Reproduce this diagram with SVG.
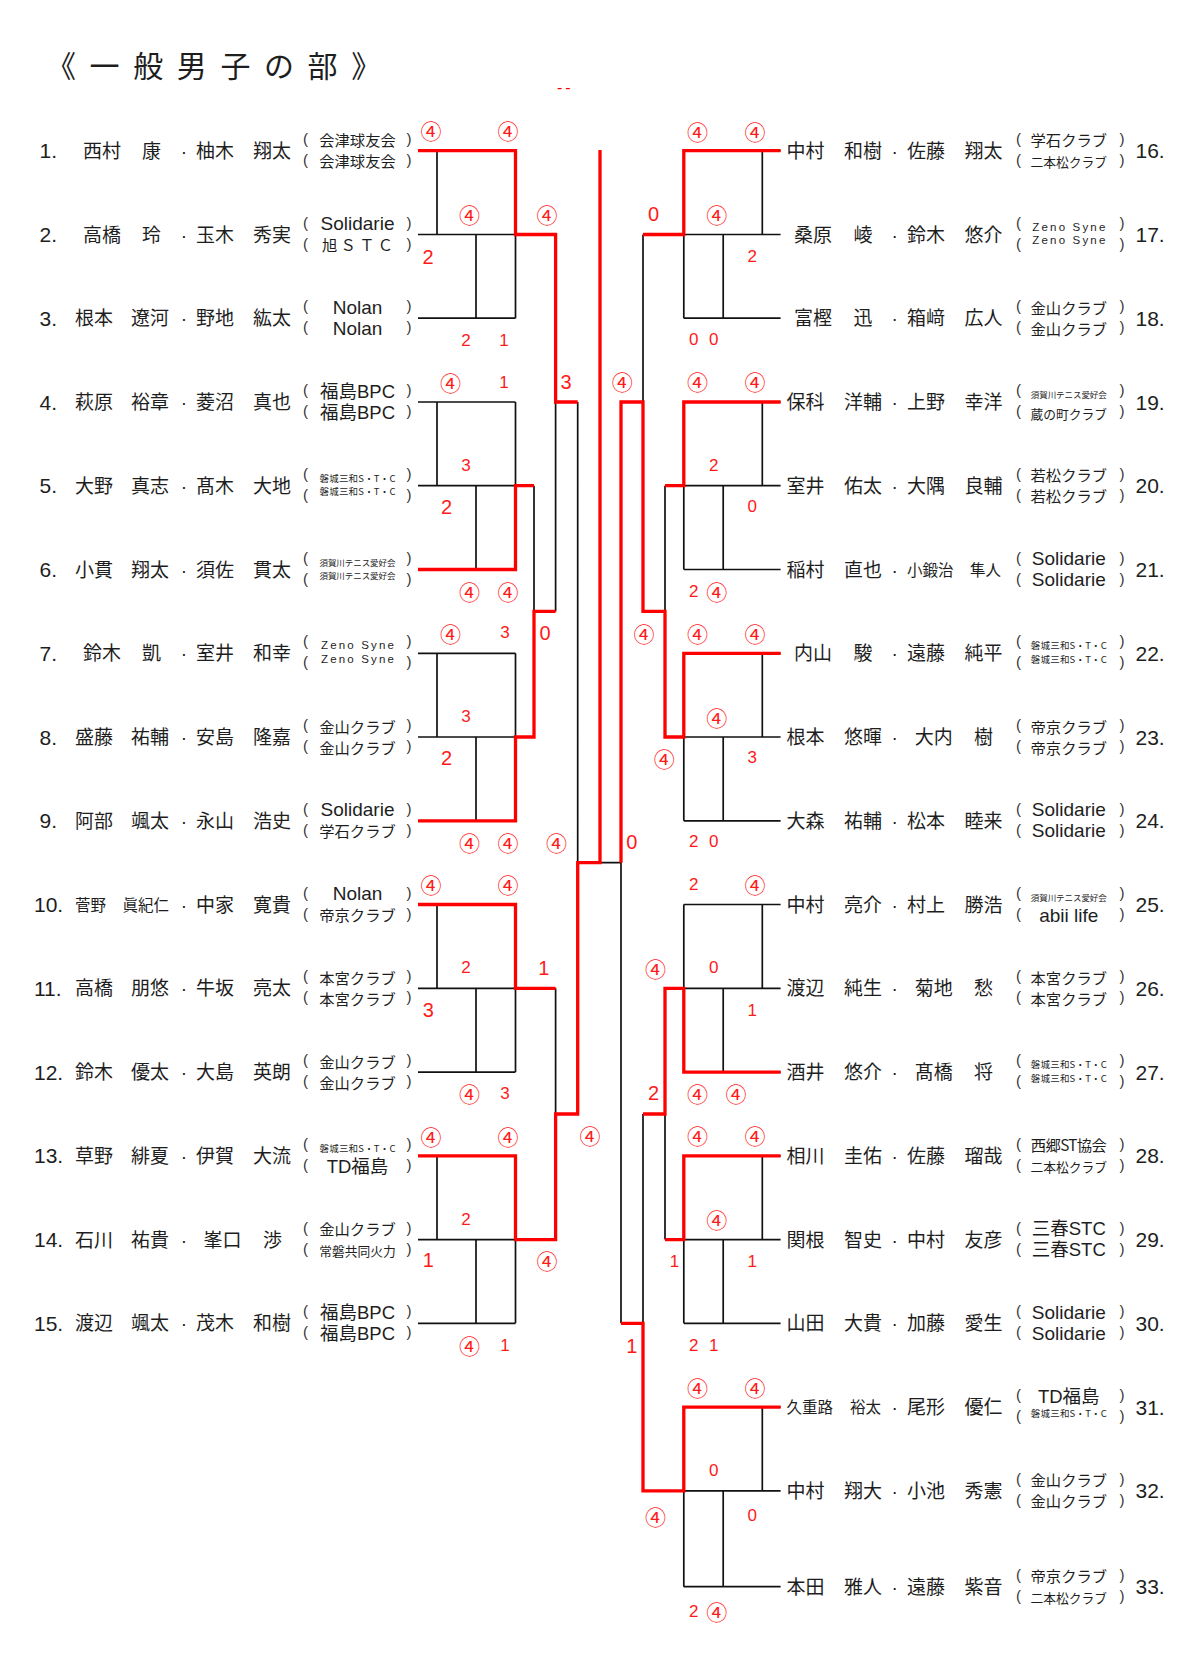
<svg xmlns="http://www.w3.org/2000/svg" width="1200" height="1653" viewBox="0 0 1200 1653">
<style>
.n{font-family:"Noto Sans CJK JP","Noto Sans CJK SC",sans-serif;fill:#1e1e1e}
.ttl{font-size:30px;letter-spacing:13.6px}
.nm{font-size:19px}
.nms{font-size:15.5px}
.no{font-family:"Liberation Sans",Arial,sans-serif;font-size:21px;fill:#1e1e1e}
.dt{font-family:"Liberation Sans",Arial,sans-serif;font-size:19px;text-anchor:middle;fill:#1e1e1e}
.pr{font-family:"Liberation Sans",Arial,sans-serif;font-size:15px;fill:#333}
.cl{font-family:"Noto Sans CJK JP","Noto Sans CJK SC",sans-serif;text-anchor:middle;fill:#1e1e1e}
.c15{font-size:15.3px}
.c13{font-size:12.75px}
.mx{font-family:"Liberation Sans","Noto Sans CJK JP","Noto Sans CJK SC",sans-serif;font-size:18.5px}
.c10{font-size:9.5px}
.c8{font-size:8.5px}
.lat{font-family:"Liberation Sans",Arial,sans-serif;font-size:19px}
.cz{font-family:"Liberation Sans",Arial,sans-serif;font-size:11.5px}
.sc{fill:#ff1a1a;text-anchor:middle;dominant-baseline:central}
.ci{font-family:"Noto Sans CJK JP","Noto Sans CJK SC",sans-serif;font-size:21px}
.b{font-family:"Liberation Sans",Arial,sans-serif;font-size:20px}
.s{font-family:"Liberation Sans",Arial,sans-serif;font-size:17px}
.bk{fill:none;stroke:#111;stroke-width:1.7}
.rd{fill:none;stroke:#ff0000;stroke-width:3.3;stroke-linejoin:miter}
</style>
<rect width="1200" height="1653" fill="#fff"/>
<text class="n ttl" x="46" y="77">《一般男子の部》</text>
<text x="557" y="92.6" fill="#ff0000" font-family="Liberation Sans, Arial, sans-serif" font-size="16" letter-spacing="3">--</text>

<g id="connectors">
<path class="bk" d="M418 150.7H515.5M418 234.5H515.5M418 318.2H515.5M437 150.7V234.5M515.5 150.7V318.2M476 234.5V318.2
M418 402H515.5M418 485.7H515.5M418 569.5H515.5M437 402V485.7M515.5 402V569.5M476 485.7V569.5
M418 653.3H515.5M418 737H515.5M418 820.8H515.5M437 653.3V737M515.5 653.3V820.8M476 737V820.8
M418 904.5H515.5M418 988.3H515.5M418 1072.1H515.5M437 904.5V988.3M515.5 904.5V1072.1M476 988.3V1072.1
M418 1155.8H515.5M418 1239.6H515.5M418 1323.3H515.5M437 1155.8V1239.6M515.5 1155.8V1323.3M476 1239.6V1323.3
M534 485.7V737M555.6 234.5V611.4M555.6 988.3V1239.6M577.7 402V1114M577.7 862.7H621
M683.8 150.7H780.6M683.8 234.5H780.6M683.8 318.2H780.6M762.3 150.7V234.5M683.8 150.7V318.2M723.2 234.5V318.2
M683.8 402H780.6M683.8 485.7H780.6M683.8 569.5H780.6M762.3 402V485.7M683.8 402V569.5M723.2 485.7V569.5
M683.8 653.3H780.6M683.8 737H780.6M683.8 820.8H780.6M762.3 653.3V737M683.8 653.3V820.8M723.2 737V820.8
M683.8 904.5H780.6M683.8 988.3H780.6M683.8 1072.1H780.6M762.3 904.5V988.3M683.8 904.5V1072.1M723.2 988.3V1072.1
M683.8 1155.8H780.6M683.8 1239.6H780.6M683.8 1323.3H780.6M762.3 1155.8V1239.6M683.8 1155.8V1323.3M723.2 1239.6V1323.3
M683.8 1407.1H780.6M683.8 1490.9H780.6M683.8 1586.7H780.6M762.3 1407.1V1490.9M683.8 1407.1V1586.7M723.2 1490.9V1586.7
M665 485.7V737M643 234.5V611.4M665 988.3V1239.6M643 1114V1490.9M621 402V1323.3"/>
<path class="rd" d="M418 150.7H515.5V234.5H555.6V402H577.7
M418 569.5H515.5V485.7H534
M418 820.8H515.5V737H534V611.4H555.6
M418 904.5H515.5V988.3H555.6
M418 1155.8H515.5V1239.6H555.6V1114H577.7V862.7H600V150
M780.6 150.7H683.8V234.5H643
M780.6 402H683.8V485.7H665
M780.6 653.3H683.8V737H665V611.4H643V402H621V862.7
M780.6 1072.1H683.8V988.3H665V1114H643
M780.6 1155.8H683.8V1239.6H665
M780.6 1407.1H683.8V1490.9H643V1323.3H621"/>
</g>

<g id="p1" transform="translate(0,150.7)"><text class="no" x="39.5" y="7.5">1.</text><text class="n nm" x="83" y="7">西村</text><text class="n nm" x="142" y="7">康</text><text class="dt" x="184" y="7">·</text><text class="n nm" x="196" y="7">柚木</text><text class="n nm" x="253" y="7">翔太</text><text class="pr" y="-7"><tspan x="303">(</tspan><tspan x="406.5">)</tspan></text><text class="pr" y="14"><tspan x="303">(</tspan><tspan x="406.5">)</tspan></text><text class="cl c15" x="357.5" y="-4.5">会津球友会</text><text class="cl c15" x="357.5" y="16.5">会津球友会</text></g>
<g id="p2" transform="translate(0,234.5)"><text class="no" x="39.5" y="7.5">2.</text><text class="n nm" x="83" y="7">高橋</text><text class="n nm" x="142" y="7">玲</text><text class="dt" x="184" y="7">·</text><text class="n nm" x="196" y="7">玉木</text><text class="n nm" x="253" y="7">秀実</text><text class="pr" y="-7"><tspan x="303">(</tspan><tspan x="406.5">)</tspan></text><text class="pr" y="14"><tspan x="303">(</tspan><tspan x="406.5">)</tspan></text><text class="cl lat" x="357.5" y="-4.5">Solidarie</text><text class="cl c15" x="357.5" y="16.5" textLength="71">旭ＳＴＣ</text></g>
<g id="p3" transform="translate(0,318.2)"><text class="no" x="39.5" y="7.5">3.</text><text class="n nm" x="75" y="7">根本</text><text class="n nm" x="131" y="7">遼河</text><text class="dt" x="184" y="7">·</text><text class="n nm" x="196" y="7">野地</text><text class="n nm" x="253" y="7">紘太</text><text class="pr" y="-7"><tspan x="303">(</tspan><tspan x="406.5">)</tspan></text><text class="pr" y="14"><tspan x="303">(</tspan><tspan x="406.5">)</tspan></text><text class="cl lat" x="357.5" y="-4.5">Nolan</text><text class="cl lat" x="357.5" y="16.5">Nolan</text></g>
<g id="p4" transform="translate(0,402)"><text class="no" x="39.5" y="7.5">4.</text><text class="n nm" x="75" y="7">萩原</text><text class="n nm" x="131" y="7">裕章</text><text class="dt" x="184" y="7">·</text><text class="n nm" x="196" y="7">菱沼</text><text class="n nm" x="253" y="7">真也</text><text class="pr" y="-7"><tspan x="303">(</tspan><tspan x="406.5">)</tspan></text><text class="pr" y="14"><tspan x="303">(</tspan><tspan x="406.5">)</tspan></text><text class="cl mx" x="357.5" y="-4.5">福島BPC</text><text class="cl mx" x="357.5" y="16.5">福島BPC</text></g>
<g id="p5" transform="translate(0,485.7)"><text class="no" x="39.5" y="7.5">5.</text><text class="n nm" x="75" y="7">大野</text><text class="n nm" x="131" y="7">真志</text><text class="dt" x="184" y="7">·</text><text class="n nm" x="196" y="7">髙木</text><text class="n nm" x="253" y="7">大地</text><text class="pr" y="-7"><tspan x="303">(</tspan><tspan x="406.5">)</tspan></text><text class="pr" y="14"><tspan x="303">(</tspan><tspan x="406.5">)</tspan></text><text class="cl c10" x="357.5" y="-4" textLength="76">磐城三和S・T・C</text><text class="cl c10" x="357.5" y="9.5" textLength="76">磐城三和S・T・C</text></g>
<g id="p6" transform="translate(0,569.5)"><text class="no" x="39.5" y="7.5">6.</text><text class="n nm" x="75" y="7">小貫</text><text class="n nm" x="131" y="7">翔太</text><text class="dt" x="184" y="7">·</text><text class="n nm" x="196" y="7">須佐</text><text class="n nm" x="253" y="7">貫太</text><text class="pr" y="-7"><tspan x="303">(</tspan><tspan x="406.5">)</tspan></text><text class="pr" y="14"><tspan x="303">(</tspan><tspan x="406.5">)</tspan></text><text class="cl c8" x="357.5" y="-4" textLength="76">須賀川テニス愛好会</text><text class="cl c8" x="357.5" y="9.5" textLength="76">須賀川テニス愛好会</text></g>
<g id="p7" transform="translate(0,653.3)"><text class="no" x="39.5" y="7.5">7.</text><text class="n nm" x="83" y="7">鈴木</text><text class="n nm" x="142" y="7">凱</text><text class="dt" x="184" y="7">·</text><text class="n nm" x="196" y="7">室井</text><text class="n nm" x="253" y="7">和幸</text><text class="pr" y="-7"><tspan x="303">(</tspan><tspan x="406.5">)</tspan></text><text class="pr" y="14"><tspan x="303">(</tspan><tspan x="406.5">)</tspan></text><text class="cl cz" x="357.5" y="-4" textLength="73">Zeno Syne</text><text class="cl cz" x="357.5" y="9.5" textLength="73">Zeno Syne</text></g>
<g id="p8" transform="translate(0,737)"><text class="no" x="39.5" y="7.5">8.</text><text class="n nm" x="75" y="7">盛藤</text><text class="n nm" x="131" y="7">祐輔</text><text class="dt" x="184" y="7">·</text><text class="n nm" x="196" y="7">安島</text><text class="n nm" x="253" y="7">隆嘉</text><text class="pr" y="-7"><tspan x="303">(</tspan><tspan x="406.5">)</tspan></text><text class="pr" y="14"><tspan x="303">(</tspan><tspan x="406.5">)</tspan></text><text class="cl c15" x="357.5" y="-4.5">金山クラブ</text><text class="cl c15" x="357.5" y="16.5">金山クラブ</text></g>
<g id="p9" transform="translate(0,820.8)"><text class="no" x="39.5" y="7.5">9.</text><text class="n nm" x="75" y="7">阿部</text><text class="n nm" x="131" y="7">颯太</text><text class="dt" x="184" y="7">·</text><text class="n nm" x="196" y="7">永山</text><text class="n nm" x="253" y="7">浩史</text><text class="pr" y="-7"><tspan x="303">(</tspan><tspan x="406.5">)</tspan></text><text class="pr" y="14"><tspan x="303">(</tspan><tspan x="406.5">)</tspan></text><text class="cl lat" x="357.5" y="-4.5">Solidarie</text><text class="cl c15" x="357.5" y="16.5">学石クラブ</text></g>
<g id="p10" transform="translate(0,904.5)"><text class="no" x="34" y="7.5">10.</text><text class="n nms" x="75" y="6">菅野</text><text class="n nms" x="122.5" y="6">眞紀仁</text><text class="dt" x="184" y="7">·</text><text class="n nm" x="196" y="7">中家</text><text class="n nm" x="253" y="7">寛貴</text><text class="pr" y="-7"><tspan x="303">(</tspan><tspan x="406.5">)</tspan></text><text class="pr" y="14"><tspan x="303">(</tspan><tspan x="406.5">)</tspan></text><text class="cl lat" x="357.5" y="-4.5">Nolan</text><text class="cl c15" x="357.5" y="16.5">帝京クラブ</text></g>
<g id="p11" transform="translate(0,988.3)"><text class="no" x="34" y="7.5">11.</text><text class="n nm" x="75" y="7">高橋</text><text class="n nm" x="131" y="7">朋悠</text><text class="dt" x="184" y="7">·</text><text class="n nm" x="196" y="7">牛坂</text><text class="n nm" x="253" y="7">亮太</text><text class="pr" y="-7"><tspan x="303">(</tspan><tspan x="406.5">)</tspan></text><text class="pr" y="14"><tspan x="303">(</tspan><tspan x="406.5">)</tspan></text><text class="cl c15" x="357.5" y="-4.5">本宮クラブ</text><text class="cl c15" x="357.5" y="16.5">本宮クラブ</text></g>
<g id="p12" transform="translate(0,1072.1)"><text class="no" x="34" y="7.5">12.</text><text class="n nm" x="75" y="7">鈴木</text><text class="n nm" x="131" y="7">優太</text><text class="dt" x="184" y="7">·</text><text class="n nm" x="196" y="7">大島</text><text class="n nm" x="253" y="7">英朗</text><text class="pr" y="-7"><tspan x="303">(</tspan><tspan x="406.5">)</tspan></text><text class="pr" y="14"><tspan x="303">(</tspan><tspan x="406.5">)</tspan></text><text class="cl c15" x="357.5" y="-4.5">金山クラブ</text><text class="cl c15" x="357.5" y="16.5">金山クラブ</text></g>
<g id="p13" transform="translate(0,1155.8)"><text class="no" x="34" y="7.5">13.</text><text class="n nm" x="75" y="7">草野</text><text class="n nm" x="131" y="7">緋夏</text><text class="dt" x="184" y="7">·</text><text class="n nm" x="196" y="7">伊賀</text><text class="n nm" x="253" y="7">大流</text><text class="pr" y="-7"><tspan x="303">(</tspan><tspan x="406.5">)</tspan></text><text class="pr" y="14"><tspan x="303">(</tspan><tspan x="406.5">)</tspan></text><text class="cl c10" x="357.5" y="-4" textLength="76">磐城三和S・T・C</text><text class="cl mx" x="357.5" y="17">TD福島</text></g>
<g id="p14" transform="translate(0,1239.6)"><text class="no" x="34" y="7.5">14.</text><text class="n nm" x="75" y="7">石川</text><text class="n nm" x="131" y="7">祐貴</text><text class="dt" x="184" y="7">·</text><text class="n nm" x="203.5" y="7">峯口</text><text class="n nm" x="263" y="7">渉</text><text class="pr" y="-7"><tspan x="303">(</tspan><tspan x="406.5">)</tspan></text><text class="pr" y="14"><tspan x="303">(</tspan><tspan x="406.5">)</tspan></text><text class="cl c15" x="357.5" y="-4.5">金山クラブ</text><text class="cl c13" x="357.5" y="16.5">常磐共同火力</text></g>
<g id="p15" transform="translate(0,1323.3)"><text class="no" x="34" y="7.5">15.</text><text class="n nm" x="75" y="7">渡辺</text><text class="n nm" x="131" y="7">颯太</text><text class="dt" x="184" y="7">·</text><text class="n nm" x="196" y="7">茂木</text><text class="n nm" x="253" y="7">和樹</text><text class="pr" y="-7"><tspan x="303">(</tspan><tspan x="406.5">)</tspan></text><text class="pr" y="14"><tspan x="303">(</tspan><tspan x="406.5">)</tspan></text><text class="cl mx" x="357.5" y="-4.5">福島BPC</text><text class="cl mx" x="357.5" y="16.5">福島BPC</text></g>

<g id="p16" transform="translate(0,150.7)"><text class="n nm" x="786.5" y="7">中村</text><text class="n nm" x="844" y="7">和樹</text><text class="dt" x="894.7" y="7">·</text><text class="n nm" x="907" y="7">佐藤</text><text class="n nm" x="964.5" y="7">翔太</text><text class="pr" y="-7"><tspan x="1016">(</tspan><tspan x="1119.5">)</tspan></text><text class="pr" y="14"><tspan x="1016">(</tspan><tspan x="1119.5">)</tspan></text><text class="cl c15" x="1068.8" y="-4.5">学石クラブ</text><text class="cl c13" x="1068.8" y="16.5">二本松クラブ</text><text class="no" x="1135.5" y="7.5">16.</text></g>
<g id="p17" transform="translate(0,234.5)"><text class="n nm" x="794" y="7">桑原</text><text class="n nm" x="853.5" y="7">崚</text><text class="dt" x="894.7" y="7">·</text><text class="n nm" x="907" y="7">鈴木</text><text class="n nm" x="964.5" y="7">悠介</text><text class="pr" y="-7"><tspan x="1016">(</tspan><tspan x="1119.5">)</tspan></text><text class="pr" y="14"><tspan x="1016">(</tspan><tspan x="1119.5">)</tspan></text><text class="cl cz" x="1068.8" y="-4" textLength="73">Zeno Syne</text><text class="cl cz" x="1068.8" y="9.5" textLength="73">Zeno Syne</text><text class="no" x="1135.5" y="7.5">17.</text></g>
<g id="p18" transform="translate(0,318.2)"><text class="n nm" x="794" y="7">富樫</text><text class="n nm" x="853.5" y="7">迅</text><text class="dt" x="894.7" y="7">·</text><text class="n nm" x="907" y="7">箱﨑</text><text class="n nm" x="964.5" y="7">広人</text><text class="pr" y="-7"><tspan x="1016">(</tspan><tspan x="1119.5">)</tspan></text><text class="pr" y="14"><tspan x="1016">(</tspan><tspan x="1119.5">)</tspan></text><text class="cl c15" x="1068.8" y="-4.5">金山クラブ</text><text class="cl c15" x="1068.8" y="16.5">金山クラブ</text><text class="no" x="1135.5" y="7.5">18.</text></g>
<g id="p19" transform="translate(0,402)"><text class="n nm" x="786.5" y="7">保科</text><text class="n nm" x="844" y="7">洋輔</text><text class="dt" x="894.7" y="7">·</text><text class="n nm" x="907" y="7">上野</text><text class="n nm" x="964.5" y="7">幸洋</text><text class="pr" y="-7"><tspan x="1016">(</tspan><tspan x="1119.5">)</tspan></text><text class="pr" y="14"><tspan x="1016">(</tspan><tspan x="1119.5">)</tspan></text><text class="cl c8" x="1068.8" y="-4" textLength="76">須賀川テニス愛好会</text><text class="cl c13" x="1068.8" y="16.5">蔵の町クラブ</text><text class="no" x="1135.5" y="7.5">19.</text></g>
<g id="p20" transform="translate(0,485.7)"><text class="n nm" x="786.5" y="7">室井</text><text class="n nm" x="844" y="7">佑太</text><text class="dt" x="894.7" y="7">·</text><text class="n nm" x="907" y="7">大隅</text><text class="n nm" x="964.5" y="7">良輔</text><text class="pr" y="-7"><tspan x="1016">(</tspan><tspan x="1119.5">)</tspan></text><text class="pr" y="14"><tspan x="1016">(</tspan><tspan x="1119.5">)</tspan></text><text class="cl c15" x="1068.8" y="-4.5">若松クラブ</text><text class="cl c15" x="1068.8" y="16.5">若松クラブ</text><text class="no" x="1135.5" y="7.5">20.</text></g>
<g id="p21" transform="translate(0,569.5)"><text class="n nm" x="786.5" y="7">稲村</text><text class="n nm" x="844" y="7">直也</text><text class="dt" x="894.7" y="7">·</text><text class="n nms" x="907" y="6">小鍛治</text><text class="n nms" x="970" y="6">隼人</text><text class="pr" y="-7"><tspan x="1016">(</tspan><tspan x="1119.5">)</tspan></text><text class="pr" y="14"><tspan x="1016">(</tspan><tspan x="1119.5">)</tspan></text><text class="cl lat" x="1068.8" y="-4.5">Solidarie</text><text class="cl lat" x="1068.8" y="16.5">Solidarie</text><text class="no" x="1135.5" y="7.5">21.</text></g>
<g id="p22" transform="translate(0,653.3)"><text class="n nm" x="794" y="7">内山</text><text class="n nm" x="853.5" y="7">駿</text><text class="dt" x="894.7" y="7">·</text><text class="n nm" x="907" y="7">遠藤</text><text class="n nm" x="964.5" y="7">純平</text><text class="pr" y="-7"><tspan x="1016">(</tspan><tspan x="1119.5">)</tspan></text><text class="pr" y="14"><tspan x="1016">(</tspan><tspan x="1119.5">)</tspan></text><text class="cl c10" x="1068.8" y="-4" textLength="76">磐城三和S・T・C</text><text class="cl c10" x="1068.8" y="9.5" textLength="76">磐城三和S・T・C</text><text class="no" x="1135.5" y="7.5">22.</text></g>
<g id="p23" transform="translate(0,737)"><text class="n nm" x="786.5" y="7">根本</text><text class="n nm" x="844" y="7">悠暉</text><text class="dt" x="894.7" y="7">·</text><text class="n nm" x="914.7" y="7">大内</text><text class="n nm" x="974" y="7">樹</text><text class="pr" y="-7"><tspan x="1016">(</tspan><tspan x="1119.5">)</tspan></text><text class="pr" y="14"><tspan x="1016">(</tspan><tspan x="1119.5">)</tspan></text><text class="cl c15" x="1068.8" y="-4.5">帝京クラブ</text><text class="cl c15" x="1068.8" y="16.5">帝京クラブ</text><text class="no" x="1135.5" y="7.5">23.</text></g>
<g id="p24" transform="translate(0,820.8)"><text class="n nm" x="786.5" y="7">大森</text><text class="n nm" x="844" y="7">祐輔</text><text class="dt" x="894.7" y="7">·</text><text class="n nm" x="907" y="7">松本</text><text class="n nm" x="964.5" y="7">睦来</text><text class="pr" y="-7"><tspan x="1016">(</tspan><tspan x="1119.5">)</tspan></text><text class="pr" y="14"><tspan x="1016">(</tspan><tspan x="1119.5">)</tspan></text><text class="cl lat" x="1068.8" y="-4.5">Solidarie</text><text class="cl lat" x="1068.8" y="16.5">Solidarie</text><text class="no" x="1135.5" y="7.5">24.</text></g>
<g id="p25" transform="translate(0,904.5)"><text class="n nm" x="786.5" y="7">中村</text><text class="n nm" x="844" y="7">亮介</text><text class="dt" x="894.7" y="7">·</text><text class="n nm" x="907" y="7">村上</text><text class="n nm" x="964.5" y="7">勝浩</text><text class="pr" y="-7"><tspan x="1016">(</tspan><tspan x="1119.5">)</tspan></text><text class="pr" y="14"><tspan x="1016">(</tspan><tspan x="1119.5">)</tspan></text><text class="cl c8" x="1068.8" y="-4" textLength="76">須賀川テニス愛好会</text><text class="cl lat" x="1068.8" y="17.5">abii life</text><text class="no" x="1135.5" y="7.5">25.</text></g>
<g id="p26" transform="translate(0,988.3)"><text class="n nm" x="786.5" y="7">渡辺</text><text class="n nm" x="844" y="7">純生</text><text class="dt" x="894.7" y="7">·</text><text class="n nm" x="914.7" y="7">菊地</text><text class="n nm" x="974" y="7">愁</text><text class="pr" y="-7"><tspan x="1016">(</tspan><tspan x="1119.5">)</tspan></text><text class="pr" y="14"><tspan x="1016">(</tspan><tspan x="1119.5">)</tspan></text><text class="cl c15" x="1068.8" y="-4.5">本宮クラブ</text><text class="cl c15" x="1068.8" y="16.5">本宮クラブ</text><text class="no" x="1135.5" y="7.5">26.</text></g>
<g id="p27" transform="translate(0,1072.1)"><text class="n nm" x="786.5" y="7">酒井</text><text class="n nm" x="844" y="7">悠介</text><text class="dt" x="894.7" y="7">·</text><text class="n nm" x="914.7" y="7">髙橋</text><text class="n nm" x="974" y="7">将</text><text class="pr" y="-7"><tspan x="1016">(</tspan><tspan x="1119.5">)</tspan></text><text class="pr" y="14"><tspan x="1016">(</tspan><tspan x="1119.5">)</tspan></text><text class="cl c10" x="1068.8" y="-4" textLength="76">磐城三和S・T・C</text><text class="cl c10" x="1068.8" y="9.5" textLength="76">磐城三和S・T・C</text><text class="no" x="1135.5" y="7.5">27.</text></g>
<g id="p28" transform="translate(0,1155.8)"><text class="n nm" x="786.5" y="7">相川</text><text class="n nm" x="844" y="7">圭佑</text><text class="dt" x="894.7" y="7">·</text><text class="n nm" x="907" y="7">佐藤</text><text class="n nm" x="964.5" y="7">瑠哉</text><text class="pr" y="-7"><tspan x="1016">(</tspan><tspan x="1119.5">)</tspan></text><text class="pr" y="14"><tspan x="1016">(</tspan><tspan x="1119.5">)</tspan></text><text class="cl c15" x="1068.8" y="-4.5" textLength="76">西郷ST協会</text><text class="cl c13" x="1068.8" y="16.5">二本松クラブ</text><text class="no" x="1135.5" y="7.5">28.</text></g>
<g id="p29" transform="translate(0,1239.6)"><text class="n nm" x="786.5" y="7">関根</text><text class="n nm" x="844" y="7">智史</text><text class="dt" x="894.7" y="7">·</text><text class="n nm" x="907" y="7">中村</text><text class="n nm" x="964.5" y="7">友彦</text><text class="pr" y="-7"><tspan x="1016">(</tspan><tspan x="1119.5">)</tspan></text><text class="pr" y="14"><tspan x="1016">(</tspan><tspan x="1119.5">)</tspan></text><text class="cl mx" x="1068.8" y="-4.5">三春STC</text><text class="cl mx" x="1068.8" y="16.5">三春STC</text><text class="no" x="1135.5" y="7.5">29.</text></g>
<g id="p30" transform="translate(0,1323.3)"><text class="n nm" x="786.5" y="7">山田</text><text class="n nm" x="844" y="7">大貴</text><text class="dt" x="894.7" y="7">·</text><text class="n nm" x="907" y="7">加藤</text><text class="n nm" x="964.5" y="7">愛生</text><text class="pr" y="-7"><tspan x="1016">(</tspan><tspan x="1119.5">)</tspan></text><text class="pr" y="14"><tspan x="1016">(</tspan><tspan x="1119.5">)</tspan></text><text class="cl lat" x="1068.8" y="-4.5">Solidarie</text><text class="cl lat" x="1068.8" y="16.5">Solidarie</text><text class="no" x="1135.5" y="7.5">30.</text></g>
<g id="p31" transform="translate(0,1407.1)"><text class="n nms" x="786.5" y="6">久重路</text><text class="n nms" x="850" y="6">裕太</text><text class="dt" x="894.7" y="7">·</text><text class="n nm" x="907" y="7">尾形</text><text class="n nm" x="964.5" y="7">優仁</text><text class="pr" y="-7"><tspan x="1016">(</tspan><tspan x="1119.5">)</tspan></text><text class="pr" y="14"><tspan x="1016">(</tspan><tspan x="1119.5">)</tspan></text><text class="cl mx" x="1068.8" y="-4.5">TD福島</text><text class="cl c10" x="1068.8" y="9.5" textLength="76">磐城三和S・T・C</text><text class="no" x="1135.5" y="7.5">31.</text></g>
<g id="p32" transform="translate(0,1490.9)"><text class="n nm" x="786.5" y="7">中村</text><text class="n nm" x="844" y="7">翔大</text><text class="dt" x="894.7" y="7">·</text><text class="n nm" x="907" y="7">小池</text><text class="n nm" x="964.5" y="7">秀憲</text><text class="pr" y="-7"><tspan x="1016">(</tspan><tspan x="1119.5">)</tspan></text><text class="pr" y="14"><tspan x="1016">(</tspan><tspan x="1119.5">)</tspan></text><text class="cl c15" x="1068.8" y="-4.5">金山クラブ</text><text class="cl c15" x="1068.8" y="16.5">金山クラブ</text><text class="no" x="1135.5" y="7.5">32.</text></g>
<g id="p33" transform="translate(0,1586.7)"><text class="n nm" x="786.5" y="7">本田</text><text class="n nm" x="844" y="7">雅人</text><text class="dt" x="894.7" y="7">·</text><text class="n nm" x="907" y="7">遠藤</text><text class="n nm" x="964.5" y="7">紫音</text><text class="pr" y="-7"><tspan x="1016">(</tspan><tspan x="1119.5">)</tspan></text><text class="pr" y="14"><tspan x="1016">(</tspan><tspan x="1119.5">)</tspan></text><text class="cl c15" x="1068.8" y="-4.5">帝京クラブ</text><text class="cl c13" x="1068.8" y="16.5">二本松クラブ</text><text class="no" x="1135.5" y="7.5">33.</text></g>

<g id="scores" class="sc">
<text class="ci" x="431" y="130">④</text><text class="ci" x="508" y="130">④</text><text class="ci" x="469.6" y="214">④</text><text class="ci" x="547" y="214">④</text><text class="b" x="428" y="257">2</text><text class="s" x="466" y="340">2</text><text class="s" x="504" y="340">1</text>
<text class="b" x="566" y="382">3</text><text class="ci" x="450.5" y="382">④</text><text class="s" x="504" y="382">1</text><text class="s" x="466" y="465">3</text><text class="b" x="446.6" y="507">2</text><text class="ci" x="469.6" y="591">④</text><text class="ci" x="508" y="591">④</text>
<text class="ci" x="450.5" y="632.7">④</text><text class="s" x="505" y="632.7">3</text><text class="b" x="545" y="632.7">0</text><text class="s" x="466" y="716.7">3</text><text class="b" x="446.6" y="758.3">2</text><text class="ci" x="469.6" y="842.3">④</text><text class="ci" x="508" y="842.3">④</text><text class="ci" x="556.4" y="842.3">④</text>
<text class="ci" x="431" y="884">④</text><text class="ci" x="508" y="884">④</text><text class="s" x="466" y="967.7">2</text><text class="b" x="543.8" y="967.7">1</text><text class="b" x="428.3" y="1010">3</text><text class="ci" x="469.6" y="1093.3">④</text><text class="s" x="505" y="1093.3">3</text>
<text class="ci" x="431" y="1135.5">④</text><text class="ci" x="508" y="1135.5">④</text><text class="ci" x="590" y="1135">④</text><text class="s" x="466" y="1219.3">2</text><text class="b" x="428.3" y="1260">1</text><text class="ci" x="547" y="1260">④</text><text class="ci" x="469.6" y="1345">④</text><text class="s" x="505" y="1345">1</text>
<text class="ci" x="697.6" y="130.7">④</text><text class="ci" x="755" y="130.7">④</text><text class="b" x="653.6" y="214.3">0</text><text class="ci" x="716.7" y="214.3">④</text><text class="s" x="752.3" y="256">2</text><text class="s" x="693.8" y="339.3">0</text><text class="s" x="713.7" y="339.3">0</text>
<text class="ci" x="622.2" y="380.7">④</text><text class="ci" x="697.6" y="380.7">④</text><text class="ci" x="755" y="380.7">④</text><text class="s" x="713.7" y="465.7">2</text><text class="s" x="752.3" y="506.7">0</text><text class="s" x="693.8" y="591">2</text><text class="ci" x="716.7" y="591">④</text>
<text class="ci" x="644" y="632.7">④</text><text class="ci" x="697.6" y="632.7">④</text><text class="ci" x="755" y="632.7">④</text><text class="ci" x="716.7" y="716.7">④</text><text class="ci" x="664.3" y="757.7">④</text><text class="s" x="752.3" y="757.7">3</text><text class="b" x="631.8" y="841.7">0</text><text class="s" x="693.8" y="841.7">2</text><text class="s" x="713.7" y="841.7">0</text>
<text class="s" x="693.8" y="884">2</text><text class="ci" x="755" y="884">④</text><text class="ci" x="655.5" y="967.7">④</text><text class="s" x="713.7" y="967.7">0</text><text class="s" x="752.3" y="1010">1</text><text class="b" x="653.6" y="1093.3">2</text><text class="ci" x="697.6" y="1093.3">④</text><text class="ci" x="735.9" y="1093.3">④</text>
<text class="ci" x="697.6" y="1135">④</text><text class="ci" x="755" y="1135">④</text><text class="ci" x="716.7" y="1219.3">④</text><text class="s" x="674.6" y="1261">1</text><text class="s" x="752.3" y="1261">1</text><text class="b" x="631.8" y="1345.7">1</text><text class="s" x="693.8" y="1345.7">2</text><text class="s" x="713.7" y="1345.7">1</text>
<text class="ci" x="697.6" y="1386.7">④</text><text class="ci" x="755" y="1386.7">④</text><text class="s" x="713.7" y="1470">0</text><text class="ci" x="655.5" y="1515.7">④</text><text class="s" x="752.3" y="1515.7">0</text><text class="s" x="693.8" y="1611">2</text><text class="ci" x="716.7" y="1611">④</text>
</g>
</svg>
